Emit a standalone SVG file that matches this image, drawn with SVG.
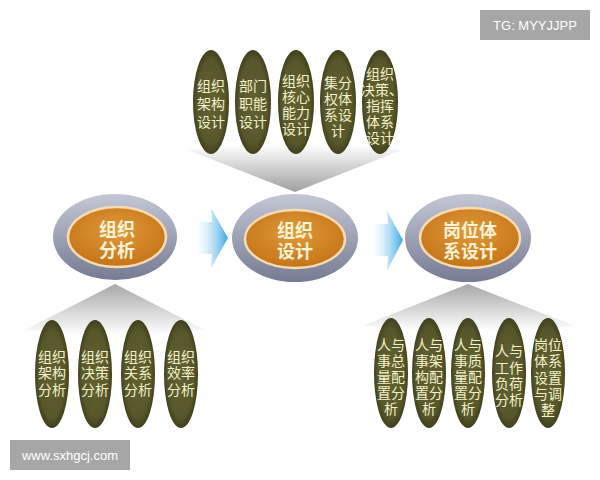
<svg xmlns="http://www.w3.org/2000/svg" width="600" height="480" viewBox="0 0 600 480">
<defs>
<radialGradient id="olive" cx="50%" cy="50%" r="50%">
<stop offset="0" stop-color="#616132"/>
<stop offset="0.8" stop-color="#57572b"/>
<stop offset="1" stop-color="#40401d"/>
</radialGradient>
<linearGradient id="outer" x1="0" y1="0" x2="0" y2="1">
<stop offset="0" stop-color="#c4c7d4"/>
<stop offset="1" stop-color="#767b93"/>
</linearGradient>
<radialGradient id="orange" cx="50%" cy="40%" r="60%">
<stop offset="0" stop-color="#e09a3a"/>
<stop offset="1" stop-color="#c57418"/>
</radialGradient>
<linearGradient id="arrow" x1="0" y1="0" x2="1" y2="0">
<stop offset="0" stop-color="#ffffff" stop-opacity="0.3"/>
<stop offset="1" stop-color="#3aa8e6"/>
</linearGradient>
<linearGradient id="fanDown" x1="0" y1="0" x2="0" y2="1">
<stop offset="0" stop-color="#ffffff"/>
<stop offset="1" stop-color="#a0a0a0"/>
</linearGradient>
<linearGradient id="fanUp" x1="0" y1="1" x2="0" y2="0">
<stop offset="0" stop-color="#ffffff"/>
<stop offset="1" stop-color="#a8a8a8"/>
</linearGradient>
<style>
.sm{fill:url(#olive);}
.st{font-family:"Noto Sans CJK SC",sans-serif;font-size:14px;fill:#f3f0c8;text-anchor:middle;}
.mt{font-family:"Noto Sans CJK SC",sans-serif;font-size:18px;font-weight:bold;fill:#fff3d6;text-anchor:middle;}
.ou{fill:url(#outer);}
.in{fill:url(#orange);stroke:#f6dcb0;stroke-width:2.5;}
.lb{font-family:"Liberation Sans",sans-serif;font-size:13px;fill:#ffffff;text-anchor:middle;}
</style>
</defs>
<rect width="600" height="480" fill="#ffffff"/>
<g id="connectors">
<path d="M188,150 Q295,140 402,150 L295,192 Z" fill="url(#fanDown)"/>
<path d="M115,284 L205,330 Q115,340 25,330 Z" fill="url(#fanUp)"/>
<path d="M468,284 L575,326 Q468,336 362,326 Z" fill="url(#fanUp)"/>
<polygon points="196,222 212,222 211,208 228,238 211,268 212,254 196,254" fill="url(#arrow)"/>
<polygon points="372,224 388,224 387,211 403,240 387,271 388,256 372,256" fill="url(#arrow)"/>
</g>
<g id="top1"><ellipse class="sm" cx="211" cy="102" rx="18" ry="52"/>
<text class="st"><tspan x="211" y="91">组织</tspan><tspan x="211" y="109">架构</tspan><tspan x="211" y="127">设计</tspan></text></g>
<g id="top2"><ellipse class="sm" cx="253" cy="102" rx="18" ry="52"/>
<text class="st"><tspan x="253" y="91">部门</tspan><tspan x="253" y="109">职能</tspan><tspan x="253" y="127">设计</tspan></text></g>
<g id="top3"><ellipse class="sm" cx="296" cy="102" rx="18" ry="52"/>
<text class="st"><tspan x="296" y="86">组织</tspan><tspan x="296" y="102">核心</tspan><tspan x="296" y="118">能力</tspan><tspan x="296" y="134">设计</tspan></text></g>
<g id="top4"><ellipse class="sm" cx="338" cy="102" rx="18" ry="52"/>
<text class="st"><tspan x="338" y="88">集分</tspan><tspan x="338" y="104">权体</tspan><tspan x="338" y="120">系设</tspan><tspan x="338" y="136">计</tspan></text></g>
<g id="top5"><ellipse class="sm" cx="380" cy="102" rx="18" ry="52"/>
<text class="st"><tspan x="380" y="79">组织</tspan><tspan x="382" y="95">决策、</tspan><tspan x="380" y="111">指挥</tspan><tspan x="380" y="127">体系</tspan><tspan x="380" y="143">设计</tspan></text></g>
<g id="main1"><ellipse class="ou" cx="115" cy="237" rx="62" ry="43"/><ellipse class="in" cx="117" cy="237" rx="49" ry="30"/>
<text class="mt"><tspan x="117" y="236">组织</tspan><tspan x="117" y="257">分析</tspan></text></g>
<g id="main2"><ellipse class="ou" cx="295" cy="238" rx="63" ry="44"/><ellipse class="in" cx="295" cy="239" rx="50" ry="29"/>
<text class="mt"><tspan x="295" y="237">组织</tspan><tspan x="295" y="258">设计</tspan></text></g>
<g id="main3"><ellipse class="ou" cx="468" cy="238" rx="63" ry="44"/><ellipse class="in" cx="470" cy="238" rx="50" ry="30"/>
<text class="mt"><tspan x="470" y="237">岗位体</tspan><tspan x="470" y="258">系设计</tspan></text></g>
<g id="bl1"><ellipse class="sm" cx="52" cy="374" rx="17" ry="54"/>
<text class="st"><tspan x="52" y="362">组织</tspan><tspan x="52" y="378">架构</tspan><tspan x="52" y="395">分析</tspan></text></g>
<g id="bl2"><ellipse class="sm" cx="95" cy="374" rx="17" ry="54"/>
<text class="st"><tspan x="95" y="362">组织</tspan><tspan x="95" y="378">决策</tspan><tspan x="95" y="395">分析</tspan></text></g>
<g id="bl3"><ellipse class="sm" cx="138" cy="374" rx="17" ry="54"/>
<text class="st"><tspan x="138" y="362">组织</tspan><tspan x="138" y="378">关系</tspan><tspan x="138" y="395">分析</tspan></text></g>
<g id="bl4"><ellipse class="sm" cx="181" cy="374" rx="17" ry="54"/>
<text class="st"><tspan x="181" y="362">组织</tspan><tspan x="181" y="378">效率</tspan><tspan x="181" y="395">分析</tspan></text></g>
<g id="br1"><ellipse class="sm" cx="391" cy="373" rx="17" ry="55"/>
<text class="st"><tspan x="391" y="350">人与</tspan><tspan x="391" y="366">事总</tspan><tspan x="391" y="382">量配</tspan><tspan x="391" y="398">置分</tspan><tspan x="391" y="414">析</tspan></text></g>
<g id="br2"><ellipse class="sm" cx="429" cy="373" rx="17" ry="55"/>
<text class="st"><tspan x="429" y="350">人与</tspan><tspan x="429" y="366">事架</tspan><tspan x="429" y="382">构配</tspan><tspan x="429" y="398">置分</tspan><tspan x="429" y="414">析</tspan></text></g>
<g id="br3"><ellipse class="sm" cx="468" cy="373" rx="17" ry="55"/>
<text class="st"><tspan x="468" y="350">人与</tspan><tspan x="468" y="366">事质</tspan><tspan x="468" y="382">量配</tspan><tspan x="468" y="398">置分</tspan><tspan x="468" y="414">析</tspan></text></g>
<g id="br4"><ellipse class="sm" cx="509" cy="373" rx="17" ry="55"/>
<text class="st"><tspan x="509" y="356">人与</tspan><tspan x="509" y="373">工作</tspan><tspan x="509" y="389">负荷</tspan><tspan x="509" y="405">分析</tspan></text></g>
<g id="br5"><ellipse class="sm" cx="548" cy="373" rx="17" ry="55"/>
<text class="st"><tspan x="548" y="350">岗位</tspan><tspan x="548" y="366">体系</tspan><tspan x="548" y="383">设置</tspan><tspan x="548" y="399">与调</tspan><tspan x="548" y="415">整</tspan></text></g>
<g id="tag"><rect x="480" y="10" width="110" height="30" fill="#a6a6a6"/><text class="lb" x="535" y="30">TG: MYYJJPP</text></g>
<g id="site"><rect x="10" y="440" width="120" height="30" fill="#a6a6a6"/><text class="lb" x="70" y="460">www.sxhgcj.com</text></g>
</svg>
